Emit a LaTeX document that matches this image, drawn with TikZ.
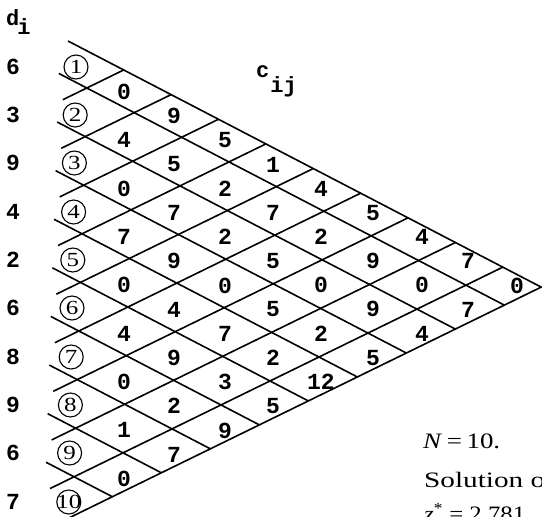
\documentclass[tikz,border=0pt]{standalone}
\usepackage{fontspec}
\usepackage{graphicx}
\setmainfont{Liberation Serif}
\setmonofont{Liberation Mono}
\newcommand{\wide}[1]{\scalebox{1.25}[1]{#1}}
\begin{document}
\begin{tikzpicture}[x=1pt, y=-1pt]
\tikzstyle{grid}=[line width=1.6pt]
\tikzstyle{tt}=[inner sep=0pt, font=\fontsize{23}{23}\selectfont\ttfamily\bfseries]
\tikzstyle{hd}=[inner sep=0pt, anchor=base west, font=\fontsize{22}{22}\selectfont\ttfamily\bfseries]
\tikzstyle{rowno}=[circle, draw, line width=1.1pt, minimum size=24pt, inner sep=0pt, font=\fontsize{20}{20}\selectfont]
\tikzstyle{txt}=[inner sep=0pt, anchor=base west, font=\fontsize{22}{22}\selectfont]
\useasboundingbox (0,0) rectangle (542,517);

% falling lines y = D + 0.52x, rising lines y = A - 0.489x
\def\Dl{{5.64,42.86,92.29,141.72,191.15,240.58,290.01,339.44,388.87,438.3}}
\def\Al{{0,130.45,178.27,226.09,273.91,321.73,369.55,417.37,465.19,513.01,551.7}}
\def\Yl{{0,67,115,163,212,260,308,357,405,453,502}}

\coordinate (tl) at (68,41);
\coordinate (apex) at (541.2,287.1);
\coordinate (bl) at (66,519.4);
\draw[grid] (tl) -- (apex) -- (bl);

\foreach \k in {1,...,9} {
  \pgfmathsetmacro\dd{\Dl[\k]}
  \pgfmathsetmacro\aa{\Al[\k]}
  \pgfmathsetmacro\xl{(\aa-\dd)/1.009}
  \pgfmathsetmacro\xe{(551.7-\dd)/1.009}
  \pgfmathsetmacro\xt{(\aa-5.64)/1.009}
  \draw[grid] ({\xl-28},{\dd+0.52*(\xl-28)}) -- ({\xe},{\dd+0.52*\xe});
  \draw[grid] ({\xl-24},{\aa-0.489*(\xl-24)}) -- ({\xt},{5.64+0.52*\xt});
}

% row numbers and d_i
\node[hd] (dhead) at (6,25) {d\kern-2pt\raisebox{-9pt}{i}};
\foreach \d [count=\i] in {6,3,9,4,2,6,8,9,6,7} {
  \pgfmathsetmacro\yy{\Yl[\i]}
  \pgfmathsetmacro\xx{76-0.8*(\i-1)}
  \node[rowno] (r\i) at (\xx,\yy) {\makebox[0pt]{\wide{\i}}};
  \node[tt] (d\i) at (13,\yy) {\d};
}

% c_ij
\node[hd] (chead) at (256,77) {c\kern1pt\raisebox{-15pt}{ij}};
\foreach \c/\xx/\vals in {1/124/{0,4,0,7,0,4,0,1,0}, 2/174/{9,5,7,9,4,9,2,7},
    3/225/{5,2,2,0,7,3,9}, 4/273/{1,7,5,5,2,5}, 5/321/{4,2,0,2,12},
    6/373/{5,9,9,5}, 7/422/{4,0,4}, 8/468/{7,7}, 9/517/{0}} {
  \foreach \v [count=\i] in \vals {
    \pgfmathtruncatemacro\j{\i+\c}
    \pgfmathsetmacro\ya{\Yl[\i]}
    \pgfmathsetmacro\yb{\Yl[\j]}
    \pgfmathsetmacro\yy{(\ya+\yb)/2+1}
    \node[tt] (c\i-\j) at (\xx,\yy) {\v};
  }
}

\node[txt] (nn) at (423,448) {\resizebox{77pt}{\height}{\textit{N}\,=\,10.}};
\node[txt] (sol) at (424,487) {\resizebox{121pt}{\height}{Solution o}};
\node[txt] (zz) at (424,521) {\resizebox{101pt}{\height}{\textit{z}\textsuperscript{*} = 2.781}};
\end{tikzpicture}
\end{document}
